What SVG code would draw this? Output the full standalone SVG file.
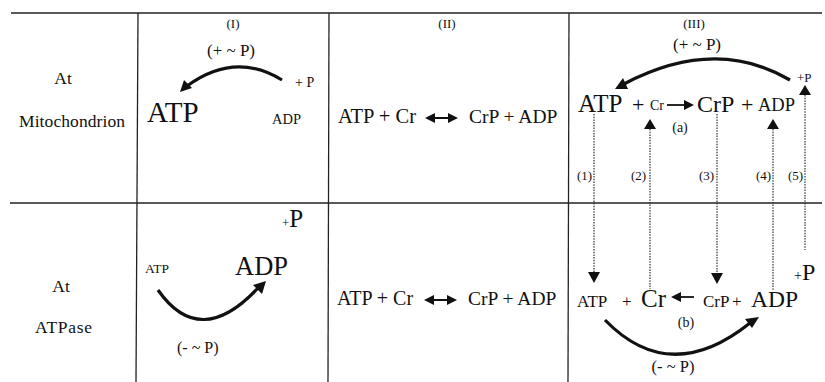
<svg xmlns="http://www.w3.org/2000/svg" width="825" height="382" viewBox="0 0 825 382">
<defs>
<style>
text{font-family:"Liberation Serif","Times New Roman",serif;fill:#111}
.grid{stroke:#222;stroke-width:1.3;fill:none}
.curve{stroke:#111;stroke-width:3.2;fill:none}
.dot{stroke:#333;stroke-width:1.2;stroke-dasharray:1.5 1.2;fill:none}
.head{fill:#111}
.lbl{font-size:17.5px}
.sm{font-size:13px}
</style>
</defs>
<g id="grid">
<line class="grid" x1="11" y1="13" x2="822" y2="13"/>
<line class="grid" x1="10" y1="203" x2="822" y2="203"/>
<line class="grid" x1="138" y1="13" x2="136" y2="382"/>
<line class="grid" x1="329" y1="13" x2="328" y2="382"/>
<line class="grid" x1="569" y1="13" x2="568" y2="382"/>
</g>
<g id="row-labels">
<text class="lbl" x="63" y="84" text-anchor="middle">At</text>
<text class="lbl" x="19" y="127" textLength="106">Mitochondrion</text>
<text class="lbl" x="61" y="292" text-anchor="middle">At</text>
<text class="lbl" x="35" y="333" textLength="57">ATPase</text>
</g>
<g id="col-I-top">
<text class="sm" x="233" y="28" text-anchor="middle">(I)</text>
<text x="231" y="56" font-size="17" text-anchor="middle">(+ ~ P)</text>
<text x="295" y="87" font-size="14">+ P</text>
<text x="147" y="122" font-size="29">ATP</text>
<text x="272" y="124" font-size="14.5">ADP</text>
</g>
<g id="col-I-bottom">
<text x="282" y="227"><tspan font-size="13">+</tspan><tspan font-size="25">P</tspan></text>
<text x="145" y="273" font-size="13.5">ATP</text>
<text x="235" y="275" font-size="26.5">ADP</text>
<text x="177" y="353" font-size="16">(- ~ P)</text>
</g>
<g id="col-II-top">
<text class="sm" x="447" y="28" text-anchor="middle">(II)</text>
<text x="338" y="123" font-size="20.5">ATP + Cr</text>
<text x="469" y="123" font-size="19.5">CrP + ADP</text>
</g>
<g id="col-II-bottom">
<text x="337" y="305" font-size="20">ATP + Cr</text>
<text x="468" y="305" font-size="19.5">CrP + ADP</text>
</g>
<g id="col-III-top">
<text class="sm" x="694" y="28" text-anchor="middle">(III)</text>
<text x="697" y="50" font-size="17" text-anchor="middle">(+ ~ P)</text>
<text x="797" y="82" font-size="13">+P</text>
<text x="578" y="112" font-size="25">ATP</text>
<text x="632" y="112" font-size="22">+</text>
<text x="650" y="110" font-size="14">Cr</text>
<text x="697" y="112" font-size="24">CrP</text>
<text x="741" y="112" font-size="22">+</text>
<text x="758" y="111" font-size="18.5">ADP</text>
<text x="680" y="132" font-size="14" text-anchor="middle">(a)</text>
<text class="sm" x="577" y="180">(1)</text>
<text class="sm" x="631" y="180">(2)</text>
<text class="sm" x="699" y="180">(3)</text>
<text class="sm" x="756" y="180">(4)</text>
<text class="sm" x="788" y="180">(5)</text>
</g>
<g id="col-III-bottom">
<text x="577" y="307" font-size="17">ATP</text>
<text x="622" y="307" font-size="17">+</text>
<text x="641" y="307" font-size="25">Cr</text>
<text x="703" y="307" font-size="17">CrP</text>
<text x="732" y="307" font-size="17">+</text>
<text x="751" y="307" font-size="23.5">ADP</text>
<text x="794" y="280"><tspan font-size="14">+</tspan><tspan font-size="24">P</tspan></text>
<text x="686" y="327" font-size="14" text-anchor="middle">(b)</text>
<text x="673" y="372" font-size="16.5" text-anchor="middle">(- ~ P)</text>
</g>
<g id="connectors">
<path class="curve" d="M282,80 Q235,51 187,86"/>
<polygon class="head" points="180,92 184,80 192,88"/>
<path class="curve" d="M158,290 Q200,350 258,288"/>
<polygon class="head" points="266,281 253,285 262,294"/>
<path class="curve" d="M790,80 Q715,36 624,84"/>
<polygon class="head" points="615,89 623,78 628,89"/>
<path class="curve" d="M605,320 Q670,387 750,323"/>
<polygon class="head" points="759,317 745,319 752,328"/>
<line stroke="#111" stroke-width="2" x1="433" y1="118" x2="450" y2="118"/>
<polygon class="head" points="425,118 435,113 435,123"/>
<polygon class="head" points="458,118 448,113 448,123"/>
<line stroke="#111" stroke-width="2" x1="432" y1="300" x2="449" y2="300"/>
<polygon class="head" points="424,300 434,295 434,305"/>
<polygon class="head" points="457,300 447,295 447,305"/>
<line stroke="#111" stroke-width="1.8" x1="667" y1="105" x2="685" y2="105"/>
<polygon class="head" points="694,105 684,100 684,110"/>
<line stroke="#111" stroke-width="1.8" x1="680" y1="297" x2="694" y2="297"/>
<polygon class="head" points="671,297 681,292 681,302"/>
<line class="dot" x1="594" y1="114" x2="594" y2="273"/>
<polygon class="head" points="588,272 600,272 594,283"/>
<line class="dot" x1="650" y1="129" x2="650" y2="289"/>
<polygon class="head" points="644,129 656,129 650,119"/>
<line class="dot" x1="717" y1="114" x2="717" y2="274"/>
<polygon class="head" points="711,273 723,273 717,284"/>
<line class="dot" x1="773" y1="129" x2="773" y2="291"/>
<polygon class="head" points="767,129 779,129 773,119"/>
<line class="dot" x1="805" y1="95" x2="805" y2="250"/>
<polygon class="head" points="799,95 811,95 805,85"/>
</g>
</svg>
